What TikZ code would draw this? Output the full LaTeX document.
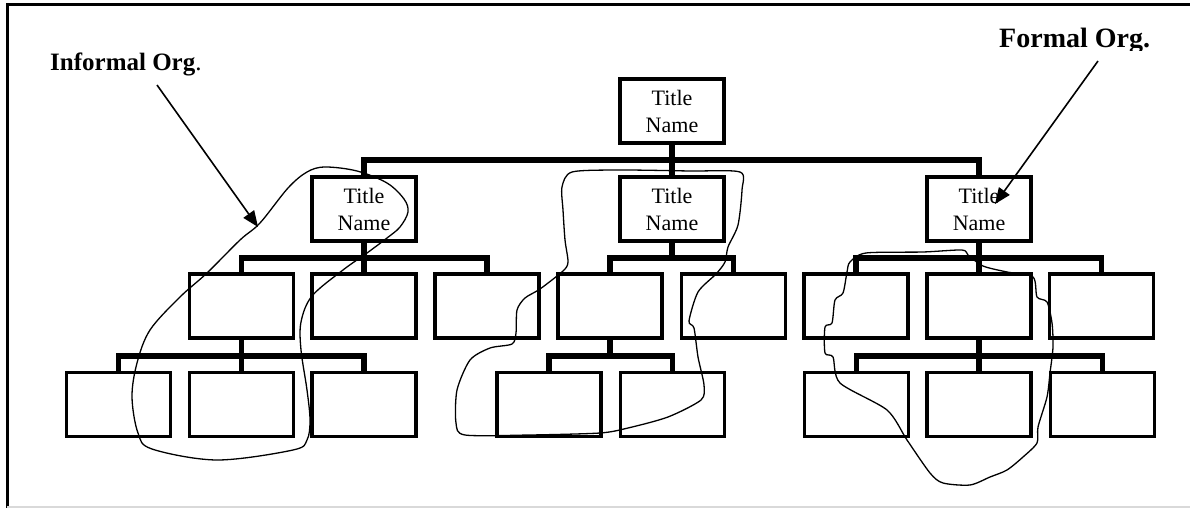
\documentclass[tikz,border=0pt]{standalone}
\usepackage{fontspec}
\setmainfont{Liberation Serif}
\usetikzlibrary{arrows.meta}
\begin{document}
\begin{tikzpicture}[x=1pt,y=-1pt,
  orgbox/.style={draw, line width=3.6pt, fill=white, minimum width=104pt, minimum height=64pt,
    inner sep=0pt, align=center, font=\fontsize{22}{27}\selectfont},
  bus/.style={line width=5.8pt},
  freehand/.style={line width=1.3pt, line join=round},
  labelarrow/.style={line width=1.6pt, -{Triangle[length=16pt,width=13pt]}},
  frameline/.style={line width=3pt}]
\useasboundingbox (0,0) rectangle (1190,508);
% frame
\draw[frameline] (7,508) -- (7,5) -- (1190,5);
\draw[black!15, line width=1.5pt] (7,507.2) -- (1190,507.2);

% boxes
\node[orgbox] (top) at (672,111) {Title\\Name};
\node[orgbox] (a) at (364,209) {Title\\Name};
\node[orgbox] (b) at (672,209) {Title\\Name};
\node[orgbox] (c) at (979,209) {Title\\Name};

\foreach \nm/\xx in {r3a/241.5, r3b/364, r3c/487, r3d/610, r3e/733.5, r3f/856, r3g/979, r3h/1101.5}
  \node[orgbox] (\nm) at (\xx,306) {};
\foreach \nm/\xx in {r4a/118.5, r4b/241.5, r4c/364, r4d/549, r4e/672.5, r4f/856.5, r4g/979, r4h/1102.5}
  \node[orgbox] (\nm) at (\xx,404.5) {};

% buses
\coordinate (bus0) at (672,160);
\draw[bus] (top.south) -- (bus0);
\draw[bus] (a.north) |- (bus0) -| (c.north);
\draw[bus] (b.north) -- (b.north |- bus0);

\coordinate (bus1) at (364,258);
\draw[bus] (a.south) -- (bus1);
\draw[bus] (r3a.north) |- (bus1) -| (r3c.north);
\draw[bus] (r3b.north) -- (bus1);

\coordinate (bus2) at (672,258);
\draw[bus] (b.south) -- (bus2);
\draw[bus] (r3d.north) |- (bus2) -| (r3e.north);

\coordinate (bus3) at (979,258);
\draw[bus] (c.south) -- (bus3);
\draw[bus] (r3f.north) |- (bus3) -| (r3h.north);
\draw[bus] (r3g.north) -- (bus3);

\coordinate (bus4) at (241.5,356);
\draw[bus] (r3a.south) -- (bus4);
\draw[bus] (r4a.north) |- (bus4) -| (r4c.north);
\draw[bus] (r4b.north) -- (bus4);

\coordinate (bus5) at (610,356);
\draw[bus] (r3d.south) -- (bus5);
\draw[bus] (r4d.north) |- (bus5) -| (r4e.north);

\coordinate (bus6) at (979,356);
\draw[bus] (r3g.south) -- (bus6);
\draw[bus] (r4f.north) |- (bus6) -| (r4h.north);
\draw[bus] (r4g.north) -- (bus6);

% hand-drawn loops
\draw[freehand] plot[smooth cycle, tension=0.55] coordinates {
  (150,330) (180,297) (207,273) (240,240) (260,223) (288,188) (307,172) (325,167)
  (357,171) (387,183) (404,199) (408,212) (400,227) (387,238) (367,253) (343,270)
  (312,296) (301,322) (301,350) (307,390) (310,420) (307,440) (293,450) (217,460)
  (152,449) (138,433) (132,397) (137,363)};

\draw[freehand] plot[smooth cycle, tension=0.45] coordinates {
  (562,187) (572,172) (620,170) (690,171) (740,172) (742,190) (738,225)
  (728,247) (725,262) (716,274) (698,292) (689,321) (694,328) (698,357)
  (704,385) (701,400) (668,417) (628,428) (600,433) (530,435) (465,435)
  (456,423) (457,390) (470,360) (490,348) (512,344) (516,333) (517,310)
  (525,298) (540,289) (563,271) (568,262) (565,240) (563,210)};

\draw[freehand] plot[smooth cycle, tension=0.45] coordinates {
  (850,262) (866,253) (923,252) (962,250) (968,255) (983,266) (1007,272)
  (1033,277) (1037,297) (1047,302) (1052,323) (1053,347) (1050,373)
  (1047,397) (1038,427) (1037,443) (1023,457) (1007,470) (990,477)
  (970,485) (943,483) (930,473) (907,440) (887,410) (840,383) (833,357)
  (825,353) (825,327) (832,323) (835,300) (843,293) (847,272)};

% labels
\node[anchor=base west, inner sep=0pt, font=\fontsize{25}{30}\selectfont] (informal) at (50,71) {\textbf{Informal Org}.};
\begin{scope}
  \clip (900,8) rectangle (1190,50.5);
  \node[anchor=base west, inner sep=0pt, font=\fontsize{28}{30}\selectfont\bfseries] (formal) at (999,48) {Formal Org.};
\end{scope}

\coordinate (inftail) at (157,85);
\coordinate (inftip) at (258,227);
\draw[labelarrow] (inftail) -- (inftip);
\coordinate (frmtail) at (1098,61);
\coordinate (frmtip) at (995,204);
\draw[labelarrow] (frmtail) -- (frmtip);
\end{tikzpicture}
\end{document}
